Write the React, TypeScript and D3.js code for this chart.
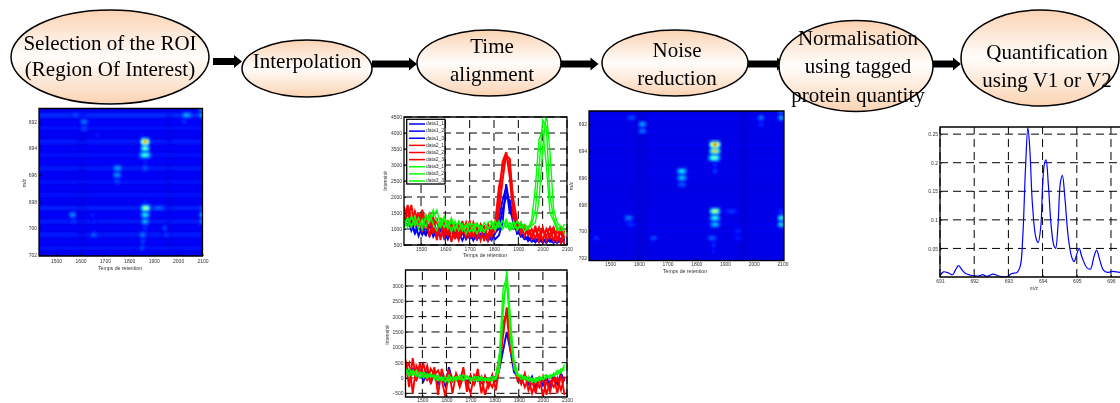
import { useEffect, useRef } from "react";
import * as d3 from "d3";

// flow diagram
const steps = [
  { lines: ["Selection of the ROI", "(Region Of Interest)"], cx: 110, cy: 57, rx: 99, ry: 47, tx: 110, base: [50, 76] },
  { lines: ["Interpolation"], cx: 307, cy: 68.5, rx: 65, ry: 28.5, tx: 307, base: [68] },
  { lines: ["Time", "alignment"], cx: 489, cy: 63, rx: 72, ry: 33, tx: 492, base: [53, 81] },
  { lines: ["Noise", "reduction"], cx: 675, cy: 63, rx: 73, ry: 33, tx: 677, base: [57, 85] },
  { lines: ["Normalisation", "using tagged", "protein quantity"], cx: 856, cy: 66, rx: 77, ry: 45.5, tx: 858, base: [45, 73, 102] },
  { lines: ["Quantification", "using V1 or V2"], cx: 1040, cy: 58, rx: 79, ry: 48, tx: 1047, base: [59, 87] },
];
const arrows = [
  { x0: 213, x1: 242, y: 61.5 },
  { x0: 372, x1: 417, y: 64 },
  { x0: 560, x1: 598.5, y: 64 },
  { x0: 747, x1: 785, y: 64 },
  { x0: 933, x1: 961, y: 64 },
];

// heat maps: m/z rows and [m/z, rtStart, rtEnd, level]
const mzRows = d3.range(691, 702.5, 0.5);
const leftRowLevels = [0.115, 0.17, 0.125, 0.14, 0.115, 0.15, 0.125, 0.14, 0.125, 0.15, 0.12, 0.14, 0.12, 0.14, 0.115, 0.155, 0.13, 0.15, 0.12, 0.15, 0.12, 0.14, 0.11];
const rightRowLevels = [0.1, 0.115, 0.1, 0.105, 0.1, 0.11, 0.1, 0.105, 0.1, 0.105, 0.1, 0.1, 0.095, 0.1, 0.1, 0.105, 0.1, 0.11, 0.105, 0.1, 0.1, 0.1, 0.095];
const leftBlobs = [
  [691, 2085, 2105, 0.3], [691.5, 2015, 2055, 0.3], [691.5, 1560, 1600, 0.2], [691.5, 2085, 2105, 0.3],
  [692, 1600, 1630, 0.25], [692, 2015, 2035, 0.18], [692.5, 1600, 1630, 0.2], [693, 1845, 1860, 0.16], [693, 1660, 1680, 0.16],
  [693.5, 1850, 1880, 0.82], [694, 1850, 1880, 0.5], [694.5, 1845, 1885, 0.45], [695, 1855, 1875, 0.16], [695.5, 1850, 1880, 0.22],
  [695.5, 1735, 1770, 0.3], [696, 1735, 1765, 0.28], [696.5, 1735, 1765, 0.2],
  [698, 1855, 1875, 0.16], [698.5, 1850, 1885, 0.55], [698.5, 1890, 1950, 0.22], [698.5, 2085, 2105, 0.22], [699, 1850, 1880, 0.4], [699.5, 1850, 1880, 0.32],
  [700, 1855, 1875, 0.18], [700.5, 1840, 1870, 0.25], [701, 1845, 1865, 0.2], [701.5, 1840, 1865, 0.2],
  [699, 1555, 1580, 0.28], [699, 2090, 2105, 0.35], [699.5, 2090, 2105, 0.3], [699.5, 1550, 1590, 0.18], [699, 1640, 1660, 0.16], [699.5, 1640, 1670, 0.16],
  [700, 1935, 1955, 0.2], [700.5, 1640, 1670, 0.22], [700.5, 1935, 1970, 0.18],
];
const rightBlobs = [
  [691, 2085, 2105, 0.25], [691.5, 1560, 1590, 0.2], [691.5, 2015, 2035, 0.25], [691.5, 2085, 2105, 0.3],
  [692, 1600, 1625, 0.3], [692, 2015, 2035, 0.17], [692.5, 1600, 1625, 0.25],
  [693.5, 1850, 1880, 0.88], [694, 1850, 1880, 0.68], [694.5, 1845, 1880, 0.5], [695, 1855, 1875, 0.17], [695.5, 1855, 1875, 0.18],
  [695.5, 1735, 1765, 0.38], [696, 1735, 1765, 0.33], [696.5, 1735, 1765, 0.22],
  [698.5, 1850, 1880, 0.6], [698.5, 1900, 1945, 0.18], [698.5, 2085, 2105, 0.18], [699, 1850, 1880, 0.42], [699, 1550, 1580, 0.25], [699, 2085, 2105, 0.42],
  [699.5, 1850, 1880, 0.33], [699.5, 2085, 2105, 0.38], [699.5, 1555, 1590, 0.17], [700, 1930, 1960, 0.16],
  [700.5, 1840, 1870, 0.22], [700.5, 1640, 1665, 0.2], [700.5, 1440, 1465, 0.17], [700.5, 1930, 1960, 0.15], [701, 1850, 1870, 0.17], [701.5, 1850, 1870, 0.15],
];
const darkBands = [[1585, 1625], [1950, 1978]];

// chromatograms, one value every 15 s from 1430
const rtGrid = d3.range(1430, 2105, 15);
const topSeries = [
  { name: "data1_1", color: "#0000ff", values: [1350, 1100, 1250, 900, 1150, 820, 1050, 780, 1000, 720, 1050, 700, 980, 650, 900, 720, 950, 680, 880, 640, 900, 700, 850, 620, 880, 680, 800, 1200, 2400, 1700, 1150, 900, 820, 700, 760, 640, 700, 600, 680, 560, 720, 620, 650, 580, 700] },
  { name: "data1_2", color: "#0000ff", values: [1200, 1400, 950, 1200, 780, 1080, 850, 1150, 760, 1000, 800, 920, 680, 980, 760, 880, 640, 920, 700, 820, 660, 850, 720, 780, 650, 900, 1000, 1600, 2000, 1900, 1300, 1000, 760, 820, 620, 760, 580, 720, 620, 700, 600, 680, 560, 700, 620] },
  { name: "data1_3", color: "#0000ff", values: [1100, 1300, 1150, 850, 1050, 950, 800, 1100, 880, 780, 950, 850, 750, 900, 800, 700, 850, 760, 820, 680, 800, 730, 780, 700, 760, 850, 1300, 1900, 2300, 1500, 1400, 850, 900, 680, 720, 600, 660, 640, 580, 660, 640, 560, 680, 620, 600] },
  { name: "data2_1", color: "#ff0000", values: [1700, 1250, 1750, 1100, 1500, 900, 1450, 750, 1300, 800, 1200, 700, 1280, 600, 1150, 780, 1250, 700, 1100, 760, 1050, 650, 1120, 600, 1000, 900, 1900, 3100, 3400, 2600, 1300, 1150, 950, 1100, 800, 1000, 700, 1050, 650, 1000, 720, 950, 600, 1020, 700] },
  { name: "data2_2", color: "#ff0000", values: [1450, 1600, 1050, 1550, 1200, 1400, 1000, 1500, 850, 1350, 650, 1300, 850, 1250, 680, 1150, 900, 1200, 720, 1200, 850, 1100, 620, 1180, 750, 1200, 2300, 2900, 3300, 3200, 1600, 1000, 1200, 780, 1050, 680, 1100, 600, 980, 780, 1050, 620, 1000, 550, 950] },
  { name: "data2_3", color: "#ff0000", values: [1200, 1750, 1300, 1350, 1000, 1600, 1150, 1100, 1400, 650, 1350, 950, 800, 1150, 1000, 650, 1050, 950, 1250, 850, 680, 1150, 950, 800, 1100, 1000, 1500, 2500, 3350, 2900, 1900, 1250, 850, 1000, 900, 850, 950, 780, 1050, 620, 850, 1050, 700, 900, 500] },
  { name: "data3_1", color: "#00ff00", values: [1150, 1350, 1050, 1400, 1000, 1300, 1050, 1500, 1150, 950, 1300, 1050, 1250, 900, 1250, 950, 1150, 850, 1150, 1150, 850, 1100, 950, 1000, 1200, 950, 1250, 1000, 1200, 950, 1250, 1000, 1100, 950, 1000, 1300, 2300, 3800, 4100, 3000, 1500, 1250, 950, 1100, 850] },
  { name: "data3_2", color: "#00ff00", values: [1300, 1050, 1400, 1100, 1350, 1000, 1450, 1200, 1600, 1250, 1050, 1300, 1000, 1250, 1050, 1200, 950, 1150, 900, 1100, 1200, 950, 1200, 1050, 1000, 1250, 1050, 1250, 1050, 1200, 1000, 1250, 1050, 1150, 1050, 1150, 1600, 2900, 4400, 4200, 2000, 1350, 1050, 950, 1150] },
  { name: "data3_3", color: "#00ff00", values: [1000, 1350, 1100, 1250, 1150, 1150, 1300, 1350, 1400, 1600, 1150, 1400, 1100, 1350, 950, 1250, 1050, 1050, 1200, 900, 1150, 1000, 900, 1200, 1250, 1050, 1200, 1000, 1300, 1050, 1200, 950, 1200, 1050, 1000, 1100, 1200, 1900, 3500, 4650, 3400, 1600, 1200, 1050, 1000] },
];
const bottomSeries = [
  { color: "#0000ff", values: [400, 150, 300, -50, 250, -100, 200, -150, 150, -200, 100, -250, 350, -100, 100, -200, 80, -150, 60, -200, 100, -150, 50, -250, 80, -100, 300, 900, 1500, 900, 200, 50, -100, 100, -200, 50, -300, 0, -250, 50, -300, 100, -200, 150, -100] },
  { color: "#ff0000", values: [600, -300, 650, -100, 500, 50, 400, -200, 350, -550, 300, -100, 250, -500, 150, -150, 350, -450, 100, -200, 300, -500, 50, -300, 100, -400, 400, 1400, 2300, 1500, 350, 100, -200, 150, -400, -100, -500, 50, -600, -100, -450, 50, -500, 100, -550] },
  { color: "#ff0000", values: [300, 500, -500, 400, 150, 450, -100, 300, 100, 250, -50, -600, 200, -100, 100, -300, 50, -150, -500, 100, -100, 50, -550, -100, -300, 50, 700, 1800, 2100, 900, 500, -100, 50, -300, 0, -500, -100, -300, 50, -550, -100, -300, 0, -400, 50] },
  { color: "#00ff00", values: [300, 150, 250, 100, 200, 0, 150, 50, 100, -50, 50, -150, 100, -100, 0, -50, 100, 0, -50, 50, -100, 0, -50, -100, 0, -50, 300, 2100, 3500, 2000, 300, 100, 50, 0, -100, -50, -150, 50, -50, 0, 100, 50, 200, 150, 450] },
  { color: "#00ff00", values: [150, 300, 100, 250, 0, 200, 50, 150, -50, 100, -100, 50, -150, 50, -100, 100, -50, 80, -100, 0, 50, -100, 0, -50, -100, 50, 800, 2900, 3300, 1300, 400, 50, 100, -50, 50, -150, 0, -100, 50, 100, 0, 150, 100, 300, 250] },
  { color: "#00ff00", values: [250, 50, 200, 50, 150, 100, 0, 100, 50, -100, 0, -100, 0, -50, 50, 0, -100, 50, 0, -100, -50, 50, -100, 0, 50, 0, 500, 2500, 3100, 1700, 600, 150, -50, 50, -50, 0, -100, 0, -50, 50, 50, 100, 250, 200, 350] },
];

// spectrum
const specMz = [691, 691.1, 691.25, 691.37, 691.45, 691.54, 691.65, 691.75, 691.9, 692, 692.15, 692.25, 692.37, 692.55, 692.7, 692.9, 693, 693.1, 693.25, 693.35, 693.42, 693.5, 693.57, 693.63, 693.7, 693.8, 693.87, 693.95, 694, 694.06, 694.1, 694.17, 694.25, 694.33, 694.38, 694.45, 694.52, 694.58, 694.65, 694.75, 694.85, 694.92, 695, 695.07, 695.15, 695.3, 695.4, 695.5, 695.58, 695.67, 695.78, 695.9, 696.05, 696.25, 696.6];
const specI = [0.002, 0.009, 0.007, 0.004, 0.012, 0.02, 0.012, 0.006, 0.003, 0.002, 0.002, 0.004, 0.001, 0.005, 0.002, 0, 0.002, 0.006, 0.008, 0.02, 0.07, 0.19, 0.262, 0.22, 0.13, 0.07, 0.06, 0.09, 0.16, 0.2, 0.205, 0.16, 0.09, 0.055, 0.05, 0.09, 0.165, 0.178, 0.14, 0.07, 0.035, 0.027, 0.04, 0.05, 0.035, 0.016, 0.014, 0.035, 0.047, 0.03, 0.012, 0.008, 0.01, 0.008, 0.006];

const rtTicks = [1500, 1600, 1700, 1800, 1900, 2000, 2100];
const mzTicks = [692, 694, 696, 698, 700, 702];
const jet = d3
  .scaleLinear<string>()
  .domain([0, 0.125, 0.375, 0.625, 0.875, 1])
  .range(["#00008f", "#0000ff", "#00ffff", "#ffff00", "#ff0000", "#800000"]);
// halo, body and core of a blob: share of the width and of the level above background
const blobLayers = [
  { size: 1.15, share: 0.35 },
  { size: 0.8, share: 0.68 },
  { size: 0.38, share: 1.08 },
];

const SANS = "'Liberation Sans', Arial, sans-serif";

function styleAxis(sel: any) {
  sel.attr("font-family", SANS).attr("font-size", 5);
  sel.selectAll("text").attr("fill", "#333");
  sel.selectAll(".domain").remove();
  sel.selectAll("line").attr("stroke", "#000").attr("stroke-width", 0.8);
}

function drawFrame(svg: any, x: any, y: any, xTicks: number[], yTicks: number[], opts: any = {}) {
  const [x0, x1] = x.range();
  const [y0, y1] = y.range();
  const bottom = Math.max(y0, y1);
  const top = Math.min(y0, y1);
  const g = svg.append("g");
  if (opts.grid) {
    const grid = g.append("g").attr("stroke", "#000").attr("stroke-width", 1).attr("stroke-dasharray", "8 5");
    grid.selectAll("line.gx").data(xTicks).join("line").attr("class", "gx").attr("x1", (d: number) => x(d)).attr("x2", (d: number) => x(d)).attr("y1", bottom).attr("y2", top);
    grid.selectAll("line.gy").data(yTicks).join("line").attr("class", "gy").attr("x1", x0).attr("x2", x1).attr("y1", (d: number) => y(d)).attr("y2", (d: number) => y(d));
  }
  if (opts.marks) opts.marks(g);
  g.append("g")
    .attr("transform", `translate(0,${bottom})`)
    .call(d3.axisBottom(x).tickValues(xTicks).tickSize(-2).tickPadding(opts.xPad ?? 3).tickFormat(d3.format("d") as any))
    .call(styleAxis);
  g.append("g")
    .attr("transform", `translate(${x0},0)`)
    .call(d3.axisLeft(y).tickValues(yTicks).tickSize(-2).tickPadding(2).tickFormat((opts.yFormat ?? d3.format("d")) as any))
    .call(styleAxis);
  g.append("path")
    .attr("d", `M${x0},${top}H${x1}V${bottom}H${x0}Z`)
    .attr("fill", "none")
    .attr("stroke", "#000")
    .attr("stroke-width", 1.3);
  return g;
}

function label(svg: any, text: string, px: number, py: number, rotate = false) {
  svg.append("text")
    .attr("transform", `translate(${px},${py})${rotate ? " rotate(-90)" : ""}`)
    .attr("text-anchor", "middle")
    .attr("dominant-baseline", "middle")
    .attr("font-family", SANS)
    .attr("font-size", 5.2)
    .attr("fill", "#333")
    .text(text);
}

function drawHeat(svg: any, id: string, x: any, y: any, levels: number[], blobs: number[][], bg: number, bandLevel: number, bandOpacity: number) {
  const [x0, x1] = x.range();
  const [top, bottom] = y.range();
  svg.append("clipPath").attr("id", id).append("rect").attr("x", x0).attr("y", top).attr("width", x1 - x0).attr("height", bottom - top);
  const clip = svg.append("g").attr("clip-path", `url(#${id})`);
  clip.append("rect").attr("x", x0).attr("y", top).attr("width", x1 - x0).attr("height", bottom - top).attr("fill", jet(bg));
  const soft = clip.append("g").attr("filter", "url(#heatBlur)");
  const unit = Math.abs(y(693) - y(692));
  const rowH = unit * 0.3;
  soft.selectAll("rect.row").data(mzRows).join("rect").attr("class", "row")
    .attr("x", x0 - 5).attr("width", x1 - x0 + 10)
    .attr("y", (d: number) => y(d) - rowH / 2).attr("height", rowH)
    .attr("fill", (_: number, i: number) => jet(levels[i]));
  soft.selectAll("rect.band").data(darkBands).join("rect").attr("class", "band")
    .attr("x", (d: number[]) => x(d[0])).attr("width", (d: number[]) => x(d[1]) - x(d[0]))
    .attr("y", top - 5).attr("height", bottom - top + 10)
    .attr("fill", jet(bandLevel)).attr("opacity", bandOpacity);
  blobLayers.forEach((layer, li) => {
    soft.selectAll(`rect.blob${li}`).data(blobs).join("rect").attr("class", `blob${li}`)
      .attr("x", (d: number[]) => (x(d[1]) + x(d[2])) / 2 - ((x(d[2]) - x(d[1])) * layer.size) / 2)
      .attr("width", (d: number[]) => (x(d[2]) - x(d[1])) * layer.size)
      .attr("y", (d: number[]) => y(d[0]) - (unit * 0.42 * layer.size) / 2)
      .attr("height", unit * 0.42 * layer.size)
      .attr("rx", 1.5)
      .attr("fill", (d: number[]) => jet(Math.min(1, bg + (d[3] - bg) * layer.share)));
  });
}

function drawLines(g: any, id: string, x: any, y: any, series: any[]) {
  const [x0, x1] = x.range();
  const [bottom, top] = y.range();
  g.append("clipPath").attr("id", id).append("rect").attr("x", x0).attr("y", top).attr("width", x1 - x0).attr("height", bottom - top);
  const line = d3.line<number>().x((_, i) => x(rtGrid[i])).y((d) => y(d));
  g.append("g").attr("clip-path", `url(#${id})`)
    .selectAll("path").data(series).join("path")
    .attr("d", (d: any) => line(d.values))
    .attr("fill", "none")
    .attr("stroke", (d: any) => d.color)
    .attr("stroke-width", (d: any) => (d.color === "#00ff00" ? 1.4 : 1.9));
}

export default function App() {
  const ref = useRef<SVGSVGElement>(null);

  useEffect(() => {
    const root = d3.select(ref.current);
    root.selectAll("*").remove();
    const defs = root.append("defs");
    const mkBlur = (id: string, sd: number) =>
      defs.append("filter").attr("id", id).attr("filterUnits", "userSpaceOnUse")
        .attr("x", 0).attr("y", 0).attr("width", 1120).attr("height", 403)
        .append("feGaussianBlur").attr("stdDeviation", sd);
    mkBlur("pageBlur", 0.45);
    mkBlur("heatBlur", 0.9);
    const grad = defs.append("linearGradient").attr("id", "peach").attr("x1", 0).attr("y1", 0).attr("x2", 0).attr("y2", 1);
    grad.append("stop").attr("offset", "0").attr("stop-color", "#fbd3b3");
    grad.append("stop").attr("offset", "0.5").attr("stop-color", "#fffdfb");
    grad.append("stop").attr("offset", "1").attr("stop-color", "#fbd3b3");

    const svg = root.append("g").attr("filter", "url(#pageBlur)");

    // arrows below the ellipses
    svg.append("g").selectAll("path").data(arrows).join("path")
      .attr("d", (d) => `M${d.x0},${d.y - 3.5}H${d.x1 - 8}V${d.y - 6.5}L${d.x1},${d.y}L${d.x1 - 8},${d.y + 6.5}V${d.y + 3.5}H${d.x0}Z`)
      .attr("fill", "#000");

    svg.append("g").selectAll("ellipse").data(steps).join("ellipse")
      .attr("cx", (d) => d.cx).attr("cy", (d) => d.cy).attr("rx", (d) => d.rx).attr("ry", (d) => d.ry)
      .attr("fill", "url(#peach)").attr("stroke", "#000").attr("stroke-width", 1.5);

    steps.forEach((s) => {
      s.lines.forEach((t, i) => {
        svg.append("text").attr("x", s.tx).attr("y", s.base[i])
          .attr("text-anchor", "middle").attr("font-family", "'Liberation Serif', serif")
          .attr("font-size", 21).attr("fill", "#000").text(t);
      });
    });

    // left heat map
    const xL = d3.scaleLinear().domain([1430, 2100]).range([39, 202.5]);
    const yL = d3.scaleLinear().domain([691, 702.1]).range([108.5, 256]);
    drawHeat(svg, "clipL", xL, yL, leftRowLevels, leftBlobs, 0.105, 0.09, 0.35);
    drawFrame(svg, xL, yL, rtTicks, mzTicks, { xPad: 3 });
    label(svg, "Temps de retention", 120, 269);
    label(svg, "m/z", 25, 183, true);

    // right heat map
    const xR = d3.scaleLinear().domain([1427, 2105]).range([589, 784]);
    const yR = d3.scaleLinear().domain([691, 702.2]).range([111, 260.7]);
    drawHeat(svg, "clipR", xR, yR, rightRowLevels, rightBlobs, 0.095, 0.07, 0.45);
    drawFrame(svg, xR, yR, rtTicks, mzTicks, { xPad: 2 });
    label(svg, "Temps de retention", 685, 272);
    label(svg, "m/z", 572, 186, true);

    // chromatogram before alignment
    const xT = d3.scaleLinear().domain([1430, 2100]).range([404, 567]);
    const yT = d3.scaleLinear().domain([500, 4500]).range([245, 117]);
    drawFrame(svg, xT, yT, rtTicks, d3.range(500, 4501, 500), {
      grid: true,
      xPad: 2.4,
      marks: (g: any) => drawLines(g, "clipT", xT, yT, topSeries),
    });
    label(svg, "Temps de rétention", 485, 256);
    label(svg, "Intensité", 386, 181, true);

    // legend
    const yLeg = d3.scalePoint<string>().domain(topSeries.map((d) => d.name)).range([124, 181]);
    const leg = svg.append("g");
    leg.append("rect").attr("x", 406.7).attr("y", 119.3).attr("width", 38.3).attr("height", 64.7)
      .attr("fill", "#fff").attr("stroke", "#000").attr("stroke-width", 1.3);
    topSeries.forEach((s) => {
      leg.append("line").attr("x1", 409).attr("x2", 425).attr("y1", yLeg(s.name)!).attr("y2", yLeg(s.name)!)
        .attr("stroke", s.color).attr("stroke-width", 1.5);
      leg.append("text").attr("x", 426).attr("y", yLeg(s.name)!).attr("dominant-baseline", "middle")
        .attr("font-family", SANS).attr("font-size", 5).attr("fill", "#333").text(s.name);
    });

    // chromatogram after alignment
    const xB = d3.scaleLinear().domain([1430, 2100]).range([405.5, 567]);
    const yB = d3.scaleLinear().domain([-620, 3520]).range([397, 270]);
    drawFrame(svg, xB, yB, rtTicks, d3.range(-500, 3001, 500), {
      grid: true,
      xPad: 1.2,
      marks: (g: any) => drawLines(g, "clipB", xB, yB, bottomSeries),
    });
    label(svg, "Intensité", 388, 335, true);

    // spectrum
    const xS = d3.scaleLinear().domain([691, 696.6]).range([940, 1131.5]);
    const yS = d3.scaleLinear().domain([0, 0.2625]).range([277, 127]);
    const specLine = d3.line<number>().x((_, i) => xS(specMz[i])).y((d) => yS(d)).curve(d3.curveCatmullRom);
    drawFrame(svg, xS, yS, [691, 692, 693, 694, 695, 696], [0.05, 0.1, 0.15, 0.2, 0.25], {
      grid: true,
      xPad: 2.7,
      yFormat: (d: number) => String(d),
      marks: (g: any) =>
        g.append("path").attr("d", specLine(specI)).attr("fill", "none").attr("stroke", "#0000ff").attr("stroke-width", 1.2),
    });
    label(svg, "m/z", 1034, 289);
  }, []);

  return (
    <svg ref={ref} width={1120} height={403} style={{ position: "absolute", left: 0, top: 0, background: "#fff" }} />
  );
}
